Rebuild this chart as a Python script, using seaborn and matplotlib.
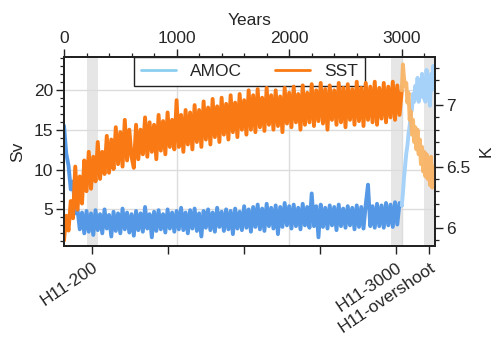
import numpy as np
import pandas as pd
import matplotlib
matplotlib.use("Agg")
import matplotlib.pyplot as plt
from matplotlib.lines import Line2D
from matplotlib.ticker import MultipleLocator
import seaborn as sns

# ---------------- data ----------------
years_main = np.arange(0, 3001, 20)
amoc_main = [
    15.5, 12.0, 10.5, 7.5, 8.5, 4.5, 5.0, 2.5, 4.6, 2.0,
    4.8, 2.2, 4.5, 1.8, 4.9, 2.4, 4.4, 2.0, 5.0, 2.6,
    4.3, 1.6, 4.7, 2.3, 4.5, 2.0, 5.1, 2.5, 4.6, 2.1,
    4.4, 1.7, 4.8, 2.4, 4.5, 2.2, 5.3, 2.6, 4.4, 1.5,
    4.7, 2.3, 4.9, 2.5, 4.4, 2.1, 5.0, 2.6, 4.6, 2.2,
    4.8, 2.5, 5.2, 2.4, 4.6, 2.0, 4.9, 2.6, 5.1, 2.3,
    4.5, 1.6, 4.8, 2.7, 5.0, 2.4, 4.6, 2.2, 5.2, 2.8,
    4.7, 2.3, 5.0, 2.5, 4.8, 1.9, 5.1, 2.6, 4.7, 2.4,
    5.4, 2.7, 5.0, 2.2, 5.3, 2.8, 5.6, 2.5, 5.1, 2.3,
    5.7, 2.9, 5.2, 2.6, 5.5, 1.9, 5.3, 2.8, 5.8, 3.0,
    5.4, 2.6, 5.6, 2.9, 5.2, 2.5, 5.7, 3.0, 5.3, 2.7,
    7.0, 2.9, 5.4, 1.5, 5.6, 2.8, 5.2, 2.6, 5.5, 3.0,
    5.3, 2.4, 5.6, 2.9, 5.1, 2.7, 5.4, 3.0, 5.2, 2.5,
    5.5, 2.8, 5.3, 2.6, 5.6, 8.1, 2.9, 5.4, 2.7, 5.7,
    2.9, 5.5, 2.7, 5.8, 3.0, 5.6, 2.8, 5.9, 3.1, 5.8,
    5.5,
]
sst_main = [
    5.90, 6.10, 5.98, 6.22, 6.08, 6.50, 6.15, 6.42, 6.20, 6.55,
    6.30, 6.62, 6.32, 6.58, 6.38, 6.70, 6.40, 6.62, 6.44, 6.75,
    6.45, 6.72, 6.48, 6.82, 6.52, 6.78, 6.50, 6.88, 6.55, 6.80,
    6.58, 6.49, 6.84, 6.56, 6.80, 6.60, 6.90, 6.58, 6.86, 6.62,
    6.84, 6.56, 6.92, 6.63, 6.87, 6.60, 6.94, 6.66, 6.88, 6.64,
    7.04, 6.66, 6.92, 6.62, 6.96, 6.68, 6.94, 6.64, 7.00, 6.70,
    6.96, 6.66, 7.03, 6.72, 6.98, 6.68, 7.05, 6.74, 6.99, 6.70,
    7.06, 6.76, 7.01, 6.72, 7.08, 6.78, 7.02, 6.74, 7.09, 6.80,
    7.04, 6.76, 7.12, 6.80, 7.08, 6.78, 7.13, 6.82, 7.06, 6.79,
    7.14, 6.84, 7.08, 6.80, 7.12, 6.83, 7.07, 6.78, 7.14, 6.85,
    7.10, 6.82, 7.15, 6.86, 7.09, 6.80, 7.16, 6.84, 7.10, 6.86,
    7.17, 6.83, 7.12, 6.87, 7.18, 6.85, 7.13, 6.80, 7.16, 6.88,
    7.12, 6.84, 7.18, 6.86, 7.14, 6.82, 7.17, 6.88, 7.13, 6.84,
    7.19, 6.87, 7.14, 6.83, 7.18, 6.88, 7.15, 6.86, 7.19, 6.84,
    7.14, 6.89, 7.18, 6.86, 7.15, 6.90, 7.19, 6.88, 7.16, 6.92,
    7.12,
]
years_over = np.arange(3000, 3291, 10)
amoc_over = [
    5.5, 7.0, 9.0, 10.5, 12.0, 13.0, 14.5, 15.5, 17.0, 17.5,
    19.5, 18.5, 20.5, 19.0, 21.5, 18.5, 21.0, 19.5, 22.0, 19.0,
    21.5, 18.5, 22.5, 19.5, 21.0, 18.0, 22.0, 20.0, 23.0, 21.5,
]
sst_over = [
    7.12, 7.33, 7.22, 7.15, 7.18, 7.02, 7.10, 6.88, 6.95, 6.76,
    6.88, 6.70, 6.82, 6.64, 6.80, 6.60, 6.72, 6.52, 6.66, 6.46,
    6.62, 6.42, 6.60, 6.40, 6.55, 6.35, 6.58, 6.33, 6.50, 6.36,
]
series_names = ["AMOC", "SST"]
top_ticks = [0, 1000, 2000, 3000]
bottom_ticks = [250, 925, 1600, 2275, 2950, 3245]
bottom_labels = ["H11-200", "", "", "", "H11-3000", "H11-overshoot"]
bands = [(200, 300), (2900, 3000), (3200, 3300)]

# ---------------- style ----------------
sns.set_theme(style="ticks")
plt.rcParams["font.family"] = ["Liberation Sans", "DejaVu Sans"]
FS = 12.5
LW = 2.8
c_blue = "#5599E6"
c_blue_l = "#A6D2FA"
c_leg_blue = "#8CCDF0"
c_orange = "#F97A14"
c_orange_l = "#F8B466"
spine_c = "#222222"
grid_c = "#dcdcdc"

fig = plt.figure(figsize=(5.0, 3.38), dpi=100)
ax = fig.add_axes([0.128, 0.272, 0.742, 0.559])
ax2 = ax.twinx()

for a, b in bands:
    ax.axvspan(a, b, color="#e6e6e6", zorder=0, lw=0)
ax.grid(True, axis="y", color=grid_c, lw=1.0)
for t in top_ticks[1:]:
    ax.axvline(t, color=grid_c, lw=1.0, zorder=0.5)
ax.set_axisbelow(True)

df_main = pd.DataFrame({"year": years_main, "AMOC": amoc_main, "SST": sst_main})
df_over = pd.DataFrame({"year": years_over, "AMOC": amoc_over, "SST": sst_over})

sns.lineplot(data=df_main, x="year", y="AMOC", ax=ax, color=c_blue, lw=LW,
             estimator=None, legend=False)
sns.lineplot(data=df_over, x="year", y="AMOC", ax=ax, color=c_blue_l, lw=LW,
             estimator=None, legend=False)
sns.lineplot(data=df_main, x="year", y="SST", ax=ax2, color=c_orange, lw=LW,
             estimator=None, legend=False)
sns.lineplot(data=df_over, x="year", y="SST", ax=ax2, color=c_orange_l, lw=LW,
             estimator=None, legend=False, alpha=0.95)

ax.set_xlim(0, 3295)
ax.set_ylim(0.4, 24.1)
ax2.set_ylim(5.854, 7.39)

# bottom x axis: experiment labels
ax.set_xticks(bottom_ticks)
ax.set_xticklabels(bottom_labels, rotation=34, ha="right", va="top",
                   rotation_mode="anchor", fontsize=FS)
ax.set_xlabel("")

# top x axis (years)
top = ax.secondary_xaxis("top")
top.set_xticks(top_ticks)
top.set_xticklabels([str(t) for t in top_ticks])
top.xaxis.set_minor_locator(MultipleLocator(200))
top.set_xlabel("Years", fontsize=FS, labelpad=4)
top.tick_params(which="major", length=6, width=1.0, direction="out",
                labelsize=FS, color=spine_c, pad=2)
top.tick_params(which="minor", length=3, width=0.9, direction="out", color=spine_c)
top.spines["top"].set_color(spine_c)
top.spines["top"].set_linewidth(1.3)

# left y axis
ax.set_yticks([5, 10, 15, 20])
ax.yaxis.set_minor_locator(MultipleLocator(1))
ax.set_ylabel("Sv", fontsize=FS, labelpad=6)

# right y axis
ax2.set_yticks([6, 6.5, 7])
ax2.set_yticklabels(["6", "6.5", "7"])
ax2.yaxis.set_minor_locator(MultipleLocator(0.1))
ax2.set_ylabel("K", fontsize=FS, labelpad=6)

for a in (ax, ax2):
    a.tick_params(which="major", length=6, width=1.0, direction="out",
                  labelsize=FS, color=spine_c, pad=2)
    a.tick_params(which="minor", length=3, width=0.9, direction="out", color=spine_c)
    for s in a.spines.values():
        s.set_color(spine_c)
        s.set_linewidth(1.3)
ax.tick_params(axis="x", which="major", pad=4)
ax.tick_params(axis="x", which="minor", bottom=False)

# legend
handles = [Line2D([], [], color=c_leg_blue, lw=2, label=series_names[0]),
           Line2D([], [], color=c_orange, lw=2, label=series_names[1])]
leg = ax.legend(handles=handles, ncol=2, loc="upper center",
                bbox_to_anchor=(0.189, 0.0, 0.622, 1.0), mode="expand",
                borderaxespad=0, fancybox=False, framealpha=1, fontsize=FS,
                edgecolor="#222222")
leg.get_frame().set_linewidth(1.0)

fig.savefig("out.png", dpi=100)
